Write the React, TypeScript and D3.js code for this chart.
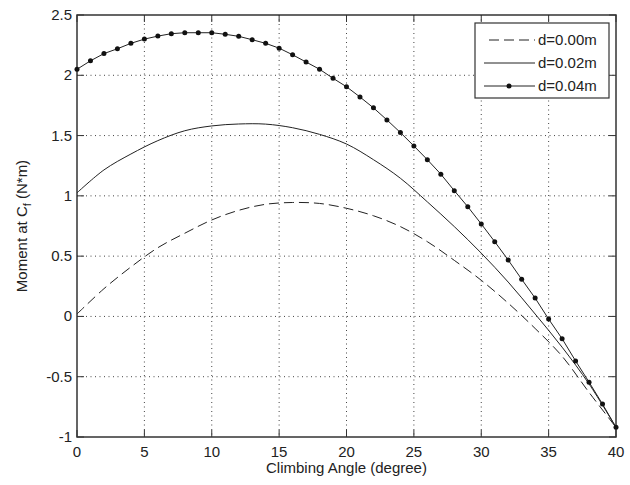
import * as d3 from "d3";
import { useEffect, useRef } from "react";

const angles = d3.range(0, 41);
const anglesCoarse = d3.range(0, 41, 2);

const d000 = [
  0.02, 0.23, 0.41, 0.57, 0.69, 0.8, 0.88, 0.93, 0.945, 0.937, 0.897,
  0.835, 0.745, 0.62, 0.465, 0.3, 0.11, -0.1, -0.33, -0.63, -0.92
];

const d002 = [
  1.025, 1.215, 1.347, 1.458, 1.54, 1.58, 1.596, 1.595, 1.565, 1.51, 1.43,
  1.3, 1.146, 0.95, 0.745, 0.525, 0.285, 0.02, -0.255, -0.56, -0.92
];

const d004 = [
  2.05, 2.12, 2.18, 2.22, 2.265, 2.3, 2.325, 2.345, 2.353, 2.353, 2.353,
  2.34, 2.323, 2.295, 2.265, 2.225, 2.17, 2.11, 2.05, 1.975, 1.905,
  1.82, 1.73, 1.63, 1.525, 1.414, 1.3, 1.18, 1.043, 0.91, 0.767,
  0.62, 0.468, 0.308, 0.152, -0.022, -0.185, -0.369, -0.545, -0.727, -0.92
];

const xTicks = [0, 5, 10, 15, 20, 25, 30, 35, 40];
const yTicks = [-1, -0.5, 0, 0.5, 1, 1.5, 2, 2.5];
const legendLabels = ["d=0.00m", "d=0.02m", "d=0.04m"];

const W = 630;
const H = 485;
const margin = { top: 15, right: 14, bottom: 48, left: 77 };
const FONT = "'Liberation Sans', Arial, sans-serif";
const INK = "#222";

const App = () => {
  const ref = useRef(null);

  useEffect(() => {
    const svg = d3.select(ref.current);
    svg.selectAll("*").remove();

    const x0 = margin.left;
    const x1 = W - margin.right;
    const y0 = margin.top;
    const y1 = H - margin.bottom;

    const x = d3.scaleLinear().domain([0, 40]).range([x0, x1]);
    const y = d3.scaleLinear().domain([-1, 2.5]).range([y1, y0]);

    svg.append("rect").attr("width", W).attr("height", H).attr("fill", "#fff");

    // dotted grid
    const grid = svg.append("g").attr("stroke", "#444").attr("stroke-width", 1)
      .attr("stroke-dasharray", "1,3.5");
    xTicks.slice(1, -1).forEach(t => {
      grid.append("line").attr("x1", x(t)).attr("x2", x(t)).attr("y1", y0).attr("y2", y1);
    });
    yTicks.slice(1, -1).forEach(t => {
      grid.append("line").attr("x1", x0).attr("x2", x1).attr("y1", y(t)).attr("y2", y(t));
    });

    // ticks on all four sides, pointing in
    const tk = 7;
    const ticks = svg.append("g").attr("stroke", "#333").attr("stroke-width", 1);
    xTicks.forEach(t => {
      ticks.append("line").attr("x1", x(t)).attr("x2", x(t)).attr("y1", y1).attr("y2", y1 - tk);
      ticks.append("line").attr("x1", x(t)).attr("x2", x(t)).attr("y1", y0).attr("y2", y0 + tk);
    });
    yTicks.forEach(t => {
      ticks.append("line").attr("x1", x0).attr("x2", x0 + tk).attr("y1", y(t)).attr("y2", y(t));
      ticks.append("line").attr("x1", x1).attr("x2", x1 - tk).attr("y1", y(t)).attr("y2", y(t));
    });

    svg.append("rect")
      .attr("x", x0).attr("y", y0)
      .attr("width", x1 - x0).attr("height", y1 - y0)
      .attr("fill", "none").attr("stroke", "#333").attr("stroke-width", 1.5);

    // tick labels
    svg.append("g").selectAll("text").data(xTicks).enter().append("text")
      .attr("x", d => x(d)).attr("y", y1 + 20)
      .attr("text-anchor", "middle")
      .style("font", `15px ${FONT}`).attr("fill", INK)
      .text(d => d);

    svg.append("g").selectAll("text").data(yTicks).enter().append("text")
      .attr("x", x0 - 5).attr("y", d => y(d) + 5)
      .attr("text-anchor", "end")
      .style("font", `15px ${FONT}`).attr("fill", INK)
      .text(d => d);

    // axis titles
    svg.append("text")
      .attr("x", (x0 + x1) / 2).attr("y", y1 + 36)
      .attr("text-anchor", "middle")
      .style("font", `15px ${FONT}`).attr("fill", INK)
      .text("Climbing Angle (degree)");

    const yl = svg.append("text")
      .attr("transform", `translate(27, ${(y0 + y1) / 2}) rotate(-90)`)
      .attr("text-anchor", "middle")
      .style("font", `15px ${FONT}`).attr("fill", INK);
    yl.append("tspan").text("Moment at C");
    yl.append("tspan").attr("dy", 4).style("font-size", "11px").text("f");
    yl.append("tspan").attr("dy", -4).text(" (N*m)");

    // curves
    const line = d3.line().x(d => x(d[0])).y(d => y(d[1])).curve(d3.curveCatmullRom);
    const lineLin = d3.line().x(d => x(d[0])).y(d => y(d[1]));

    svg.append("path")
      .datum(anglesCoarse.map((a, i) => [a, d000[i]]))
      .attr("d", line)
      .attr("fill", "none").attr("stroke", INK).attr("stroke-width", 1)
      .attr("stroke-dasharray", "10,5");

    svg.append("path")
      .datum(anglesCoarse.map((a, i) => [a, d002[i]]))
      .attr("d", line)
      .attr("fill", "none").attr("stroke", INK).attr("stroke-width", 1);

    const pts = angles.map((a, i) => [a, d004[i]]);
    svg.append("path")
      .datum(pts)
      .attr("d", lineLin)
      .attr("fill", "none").attr("stroke", INK).attr("stroke-width", 1);

    svg.append("g").selectAll("circle").data(pts).enter().append("circle")
      .attr("cx", d => x(d[0])).attr("cy", d => y(d[1]))
      .attr("r", 2.5).attr("fill", "#111");

    // legend
    const lg = { x: 475, y: 23, w: 134, h: 75 };
    svg.append("rect")
      .attr("x", lg.x).attr("y", lg.y).attr("width", lg.w).attr("height", lg.h)
      .attr("fill", "#fff").attr("stroke", "#333").attr("stroke-width", 1.2);

    const rowY = [40, 63, 86];
    legendLabels.forEach((lab, i) => {
      const l = svg.append("line")
        .attr("x1", i === 0 ? 489 : 484).attr("x2", 535)
        .attr("y1", rowY[i]).attr("y2", rowY[i])
        .attr("stroke", INK).attr("stroke-width", 1);
      if (i === 0) l.attr("stroke-dasharray", "10,5");
      if (i === 2) {
        svg.append("circle").attr("cx", 509).attr("cy", rowY[i]).attr("r", 2.5).attr("fill", "#111");
      }
      svg.append("text")
        .attr("x", 538).attr("y", rowY[i] + 5)
        .style("font", `15px ${FONT}`).attr("fill", INK)
        .text(lab);
    });
  }, []);

  return (
    <svg ref={ref} width={W} height={H}
      style={{ position: "absolute", left: 0, top: 0, background: "#fff" }}></svg>
  );
};

export default App;
